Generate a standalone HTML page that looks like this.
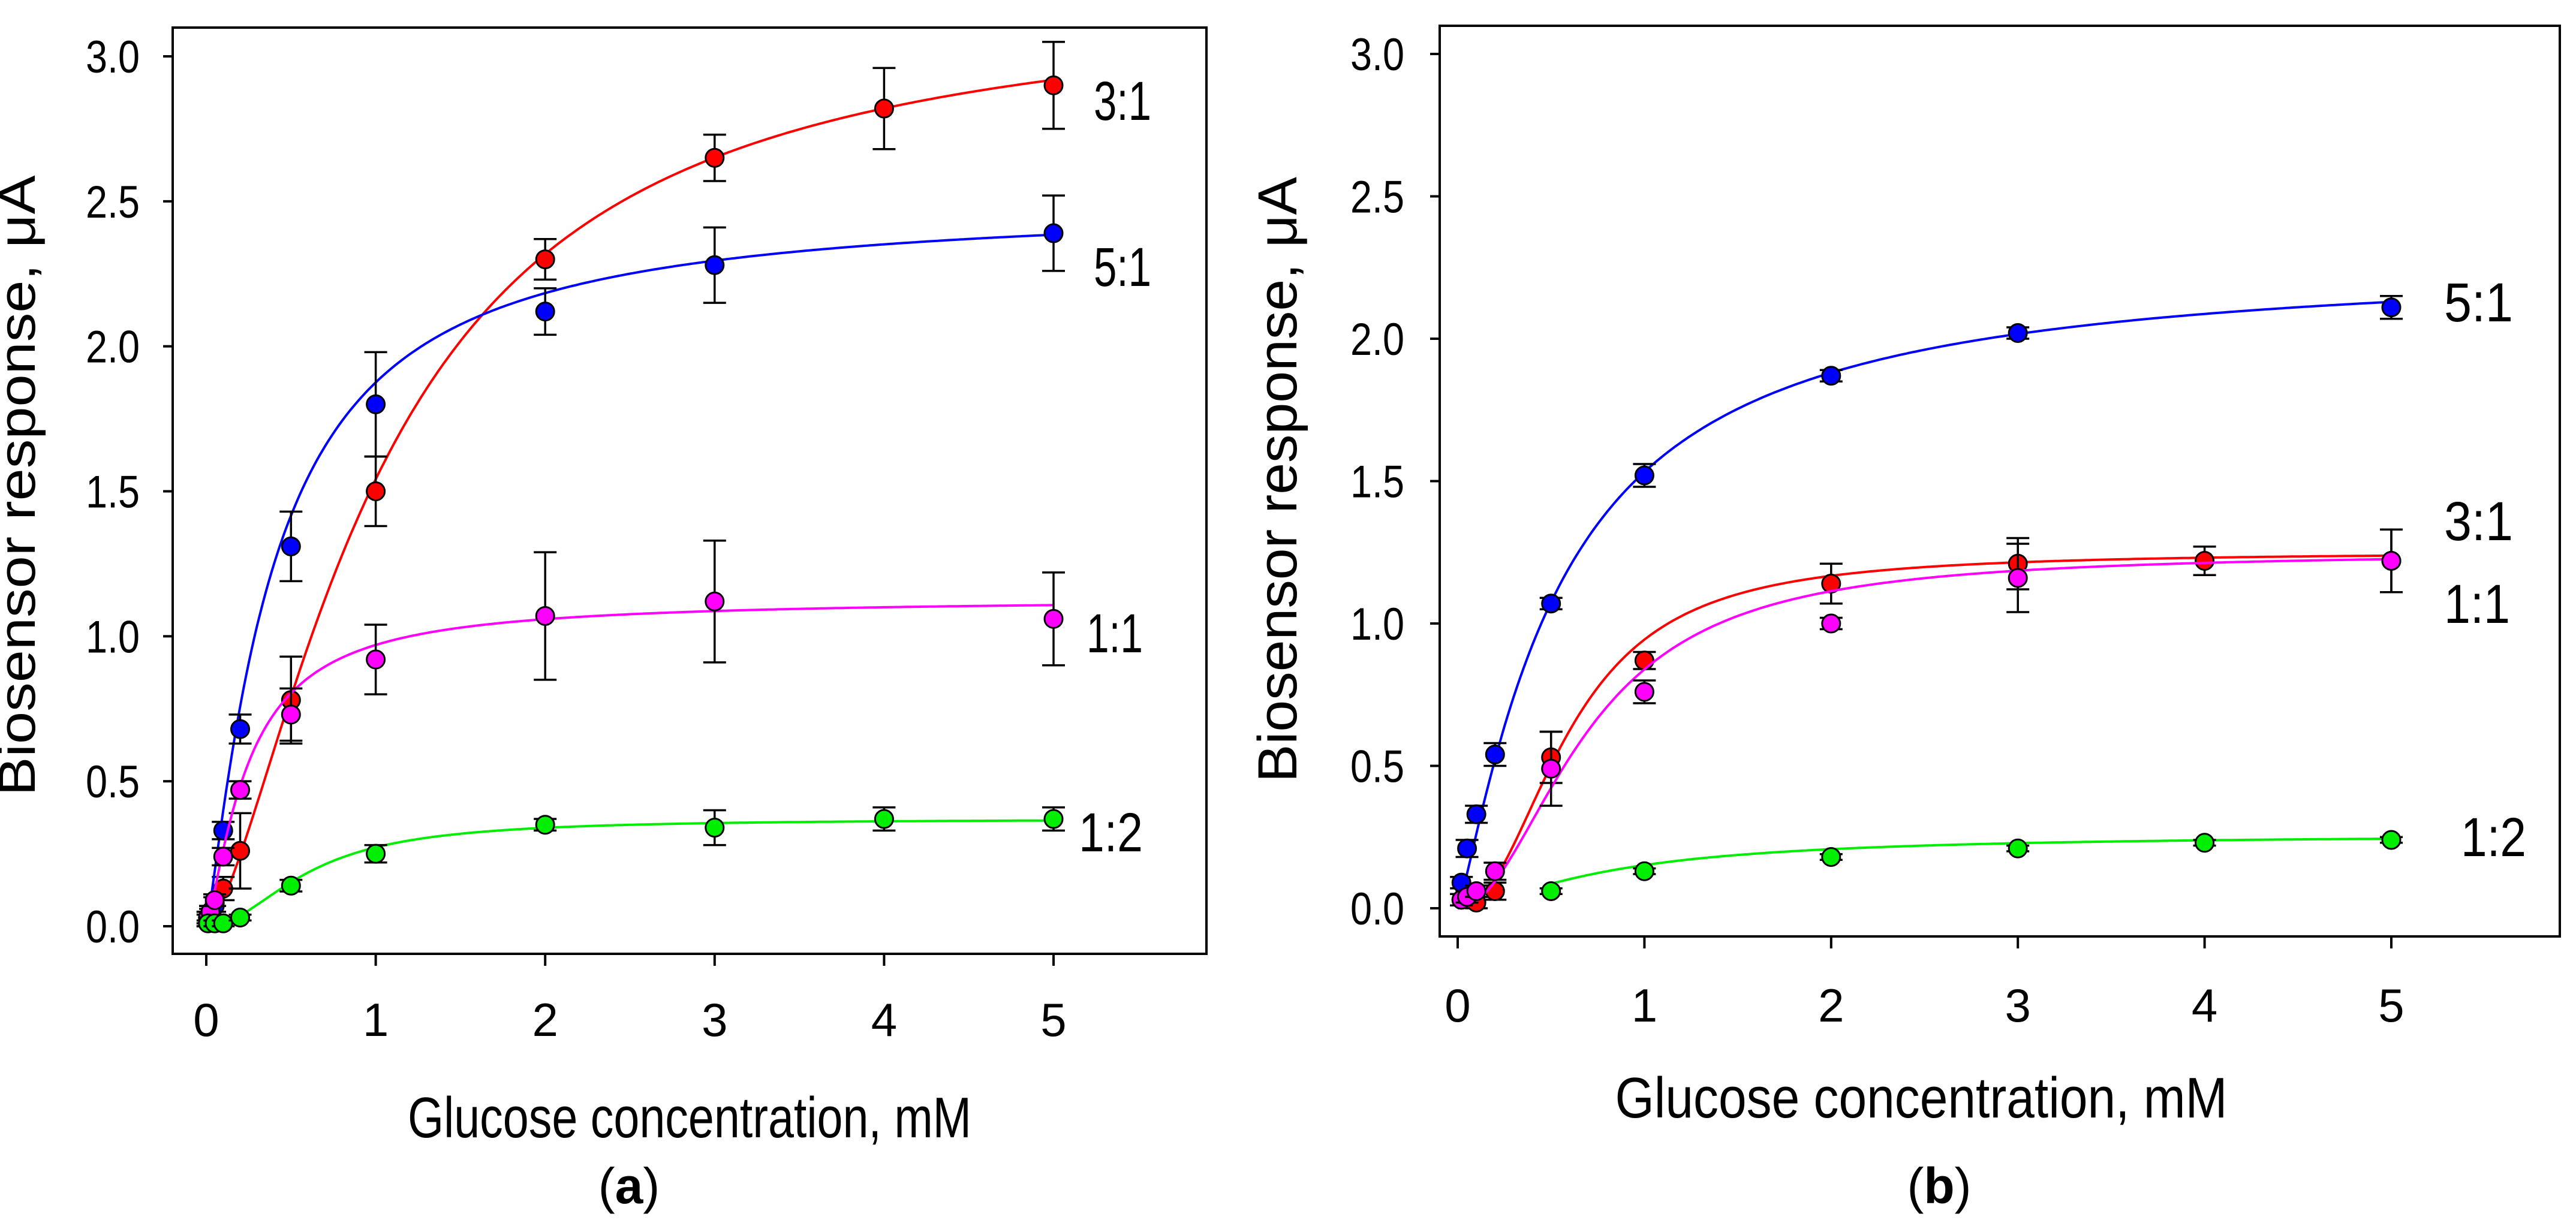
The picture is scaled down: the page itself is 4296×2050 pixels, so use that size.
<!DOCTYPE html>
<html><head><meta charset="utf-8"><style>
html,body{margin:0;padding:0;background:#fff;}
svg{display:block;}
text{font-family:"Liberation Sans",Arial,sans-serif;fill:#000;}
</style></head><body>
<svg id="chart" width="4296" height="2050" viewBox="0 0 4296 2050" xmlns="http://www.w3.org/2000/svg"></svg>
<script>
// ----- data panel (a) -----
const xA_red = [0.01,0.025,0.05,0.1,0.2,0.5,1,2,3,4,5];
const yA_red = [0.02,0.04,0.08,0.13,0.26,0.78,1.50,2.30,2.65,2.82,2.90];
const eA_red = [0.02,0.02,0.03,0.04,0.13,0.15,0.12,0.07,0.08,0.14,0.15];
const xA_blue = [0.01,0.025,0.05,0.1,0.2,0.5,1,2,3,5];
const yA_blue = [0.03,0.05,0.07,0.33,0.68,1.31,1.80,2.12,2.28,2.39];
const eA_blue = [0.02,0.02,0.03,0.03,0.05,0.12,0.18,0.08,0.13,0.13];
const xA_mag = [0.01,0.025,0.05,0.1,0.2,0.5,1,2,3,5];
const yA_mag = [0.03,0.05,0.09,0.24,0.47,0.73,0.92,1.07,1.12,1.06];
const eA_mag = [0.02,0.02,0.02,0.03,0.03,0.09,0.12,0.22,0.21,0.16];
const xA_grn = [0.01,0.05,0.1,0.2,0.5,1,2,3,4,5];
const yA_grn = [0.01,0.01,0.01,0.03,0.14,0.25,0.35,0.34,0.37,0.37];
const eA_grn = [0.01,0.01,0.01,0.01,0.02,0.03,0.02,0.06,0.04,0.04];
// Hill fit parameters [Vmax, K, n]
const fitA_red = [3.2,1.05,1.5];
const fitA_blue = [2.5,0.4,1.2];
const fitA_mag = [1.13,0.25,1.3];
const fitA_grn = [0.37,0.6,2.0];
// ----- data panel (b) -----
const xB_blue = [0.02,0.05,0.1,0.2,0.5,1,2,3,5];
const yB_blue = [0.09,0.21,0.33,0.54,1.07,1.52,1.87,2.02,2.11];
const eB_blue = [0.02,0.03,0.03,0.04,0.02,0.04,0.02,0.02,0.04];
const xB_red = [0.02,0.05,0.1,0.2,0.5,1,2,3,4,5];
const yB_red = [0.03,0.04,0.02,0.06,0.53,0.87,1.14,1.21,1.22,1.22];
const eB_red = [0.02,0.02,0.02,0.03,0.09,0.03,0.07,0.09,0.05,0.11];
const xB_mag = [0.02,0.05,0.1,0.2,0.5,1,2,3,5];
const yB_mag = [0.03,0.04,0.06,0.13,0.49,0.76,1.00,1.16,1.22];
const eB_mag = [0.02,0.02,0.02,0.03,0.13,0.04,0.02,0.12,0.11];
const xB_grn = [0.5,1,2,3,4,5];
const yB_grn = [0.06,0.13,0.18,0.21,0.23,0.24];
const eB_grn = [0.01,0.01,0.01,0.01,0.01,0.01];
const fitB_blue = [2.28,0.55,1.2];
const fitB_red = [1.25,0.6,2.2];
const fitB_mag = [1.25,0.7,2.0];
const fitB_grn = [0.26,0.8,1.5];
const yTicks = [0,0.5,1.0,1.5,2.0,2.5,3.0];
const yTickLabels = ["0.0","0.5","1.0","1.5","2.0","2.5","3.0"];
const xTicks = [0,1,2,3,4,5];
const xTickLabels = ["0","1","2","3","4","5"];

const NS="http://www.w3.org/2000/svg";
const svg=document.getElementById('chart');
function mk(tag,attrs,parent){const e=document.createElementNS(NS,tag);for(const k in attrs)e.setAttribute(k,attrs[k]);(parent||svg).appendChild(e);return e;}
function hill(p,x){const xn=Math.pow(x,p[2]);return p[0]*xn/(Math.pow(p[1],p[2])+xn);}

function panel(cfg){
  const g=mk('g',{});
  
  
  const X=v=>cfg.x0+v*(cfg.x5-cfg.x0)/5;
  const Y=v=>cfg.y0-v*(cfg.y0-cfg.y3)/3;
  const box=mk('rect',{x:cfg.L,y:cfg.T,width:cfg.R-cfg.L,height:cfg.B-cfg.T,fill:'none',stroke:'#000','stroke-width':4},g);
  
  
  yTicks.forEach((t,i)=>{
    const l=mk('line',{x1:cfg.L-16,x2:cfg.L,y1:Y(t),y2:Y(t),stroke:'#000','stroke-width':4},g);
    
    
    const tx=mk('text',{x:cfg.ylabR,y:Y(t)+27,'text-anchor':'end','font-size':76,textLength:90,lengthAdjust:'spacingAndGlyphs'},g);
    tx.textContent=yTickLabels[i];
    
    
  });
  xTicks.forEach((t,i)=>{
    const l=mk('line',{x1:X(t),x2:X(t),y1:cfg.B,y2:cfg.B+20,stroke:'#000','stroke-width':4},g);
    
    
    const tx=mk('text',{x:X(t),y:cfg.xlabY+28,'text-anchor':'middle','font-size':78},g);
    tx.textContent=xTickLabels[i];
    
    
  });
  const xt=mk('text',{x:cfg.xtX,y:cfg.xtY+36,'text-anchor':'middle','font-size':96,textLength:cfg.xtLen,lengthAdjust:'spacingAndGlyphs'},g);
  xt.textContent='Glucose concentration, mM';
  
  
  const yt=mk('text',{x:0,y:0,'text-anchor':'middle','font-size':cfg.ytF,textLength:cfg.ytLen,lengthAdjust:'spacingAndGlyphs',transform:`translate(${cfg.ytX},${cfg.ytY}) rotate(-90)`},g);
  yt.textContent='Biosensor response, μA';
  
  
  const pl=mk('text',{x:cfg.plX,y:cfg.plY+28,'text-anchor':'middle','font-size':84,'font-family':'Liberation Serif, serif'},g);
  pl.innerHTML='(<tspan font-weight="bold">'+cfg.letter+'</tspan>)';
  
  
  cfg.series.forEach(s=>{
    const sg=mk('g',{},g);
    
    
    let d='';const x1=s.fitStart||0.001;
    for(let i=0;i<=300;i++){const xv=x1+(5-x1)*i/300;d+=(i?'L':'M')+X(xv).toFixed(1)+','+Y(hill(s.fit,xv)).toFixed(1);}
    const p=mk('path',{d:d,fill:'none',stroke:s.color,'stroke-width':4},sg);
    
    
    s.xs.forEach((xv,i)=>{
      const cx=X(xv),cy=Y(s.ys[i]),e=s.es[i];
      const eb=mk('path',{d:`M${cx},${Y(s.ys[i]+e)}V${Y(s.ys[i]-e)}M${cx-19},${Y(s.ys[i]+e)}h38M${cx-19},${Y(s.ys[i]-e)}h38`,stroke:'#000','stroke-width':3.5,fill:'none'},sg);
      
      
      const c=mk('circle',{cx:cx,cy:cy,r:15,fill:s.color,stroke:'#000','stroke-width':3},sg);
      
      
    });
    const lt=mk('text',{x:s.lx,y:s.ly+33,'font-size':92,textLength:s.lw,lengthAdjust:'spacingAndGlyphs'},sg);
    lt.textContent=s.label;
    
    
  });
}

panel({name:'panel-a',letter:'a',L:288,T:46,R:2012,B:1591,x0:344,x5:1757,y0:1545,y3:94,ylabR:233,xlabY:1700,
  xtX:1150,xtY:1861,xtLen:940,ytX:58,ytY:810,ytF:86,ytLen:1035,plX:1049,plY:1979,
  series:[
    {label:'3:1',color:'#ff0000',xs:xA_red,ys:yA_red,es:eA_red,fit:fitA_red,lx:1824,ly:167,lw:96},
    {label:'5:1',color:'#0000ff',xs:xA_blue,ys:yA_blue,es:eA_blue,fit:fitA_blue,lx:1824,ly:444,lw:96},
    {label:'1:1',color:'#ff00ff',xs:xA_mag,ys:yA_mag,es:eA_mag,fit:fitA_mag,lx:1812,ly:1055,lw:94},
    {label:'1:2',color:'#00ee00',xs:xA_grn,ys:yA_grn,es:eA_grn,fit:fitA_grn,lx:1799,ly:1387,lw:107}
  ]});
panel({name:'panel-b',letter:'b',L:2401,T:43,R:4269,B:1562,x0:2431,x5:3988,y0:1515,y3:90,ylabR:2342,xlabY:1676,
  xtX:3204,xtY:1828,xtLen:1021,ytX:2162,ytY:800,ytF:92,ytLen:1010,plX:3234,plY:1979,
  series:[
    {label:'5:1',color:'#0000ff',xs:xB_blue,ys:yB_blue,es:eB_blue,fit:fitB_blue,lx:4076,ly:503,lw:115},
    {label:'3:1',color:'#ff0000',xs:xB_red,ys:yB_red,es:eB_red,fit:fitB_red,lx:4076,ly:868,lw:115},
    {label:'1:1',color:'#ff00ff',xs:xB_mag,ys:yB_mag,es:eB_mag,fit:fitB_mag,lx:4076,ly:1006,lw:110},
    {label:'1:2',color:'#00ee00',xs:xB_grn,ys:yB_grn,es:eB_grn,fit:fitB_grn,fitStart:0.5,lx:4104,ly:1395,lw:109}
  ]});
</script>
</body></html>
